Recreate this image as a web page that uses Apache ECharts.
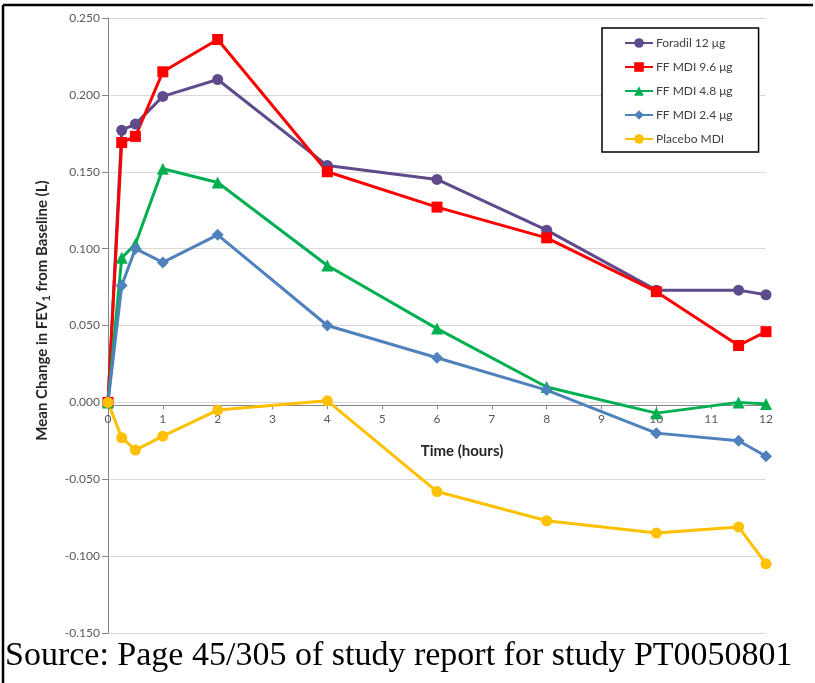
<!DOCTYPE html>
<html><head><meta charset="utf-8">
<script src="https://cdn.jsdelivr.net/npm/echarts@6/dist/echarts.min.js"></script>
<style>
html,body{margin:0;padding:0;background:#fff;}
#c{width:815px;height:683px;position:relative;}
</style></head><body>
<div id="c"></div>
<script>
const hours = [0, 0.25, 0.5, 1, 2, 4, 6, 8, 10, 11.5, 12];
const foradil12 = [0, 0.177, 0.181, 0.199, 0.210, 0.154, 0.145, 0.112, 0.073, 0.073, 0.070];
const ffmdi96  = [0, 0.169, 0.173, 0.215, 0.236, 0.150, 0.127, 0.107, 0.072, 0.037, 0.046];
const ffmdi48  = [0, 0.094, 0.103, 0.152, 0.143, 0.089, 0.048, 0.010, -0.007, 0.000, -0.001];
const ffmdi24  = [0, 0.076, 0.100, 0.091, 0.109, 0.050, 0.029, 0.008, -0.020, -0.025, -0.035];
const placebo  = [0, -0.023, -0.031, -0.022, -0.005, 0.001, -0.058, -0.077, -0.085, -0.081, -0.105];
const seriesNames = ['Foradil 12 μg', 'FF MDI 9.6 μg', 'FF MDI 4.8 μg', 'FF MDI 2.4 μg', 'Placebo MDI'];
const xTicks = [0,1,2,3,4,5,6,7,8,9,10,11,12];
const yTicks = [-0.15,-0.1,-0.05,0,0.05,0.1,0.15,0.2,0.25];

const colors = ['#5f4b8b', '#ff0000', '#00b050', '#4f81bd', '#ffc000'];
const symbols = ['circle', 'rect', 'triangle', 'diamond', 'circle'];
const sizes = [11, 11, 12, 12, 11];
const dataSets = [foradil12, ffmdi96, ffmdi48, ffmdi24, placebo];
const font = 'Lato, "Open Sans", sans-serif';

const chart = echarts.init(document.getElementById('c'), null, {renderer:'canvas'});
function build(xOffset) {
  return {
  animation: false,
  backgroundColor: '#fff',
  grid: {left: 108, right: 49, top: 18, bottom: 50, containLabel: false},
  xAxis: {
    type: 'value', min: 0, max: 12, interval: 1,
    position: 'bottom', offset: xOffset,
    axisLine: {onZero: false, lineStyle: {color: '#868686', width: 1}},
    axisTick: {show: true, length: 4, lineStyle: {color: '#868686'}},
    axisLabel: {color: '#595959', fontSize: 12, fontFamily: font, margin: 8,
      formatter: v => xTicks.includes(v) ? String(v) : ''},
    splitLine: {show: false},
    name: 'Time (hours)', nameLocation: 'middle', nameGap: 38,
    nameTextStyle: {color: '#262626', fontSize: 15, fontWeight: 'bold', fontFamily: font, padding: [0,0,0,50]}
  },
  yAxis: {
    type: 'value', min: -0.15, max: 0.25, interval: 0.05,
    axisLine: {show: true, lineStyle: {color: '#868686', width: 1}},
    axisTick: {show: true, length: 6, lineStyle: {color: '#868686'}},
    axisLabel: {color: '#595959', fontSize: 12, fontFamily: font, margin: 8,
      formatter: v => { const t = yTicks.find(x => Math.abs(x - v) < 1e-9); return t === undefined ? '' : t.toFixed(3); }},
    splitLine: {show: true, lineStyle: {color: '#d9d9d9', width: 1}},
    name: '{a|Mean Change in FEV}{s|1}{a| from Baseline (L)}',
    nameLocation: 'middle', nameGap: 56, nameRotate: 90,
    nameTextStyle: {
      padding: [0, 0, 0, 30],
      rich: {
        a: {color: '#262626', fontSize: 15, fontWeight: 'bold', fontFamily: font},
        s: {color: '#262626', fontSize: 11, fontWeight: 'bold', fontFamily: font, verticalAlign: 'bottom', padding: [8,0,0,0]}
      }
    }
  },
  legend: {
    orient: 'vertical', left: 602, top: 28,
    backgroundColor: '#fff',
    borderColor: '#000', borderWidth: 1.5,
    padding: [9, 26, 7, 22],
    itemWidth: 28, itemHeight: 12, itemGap: 12,
    textStyle: {color: '#404040', fontSize: 12, lineHeight: 12, fontFamily: font, padding: [0,0,0,-2]},
    data: seriesNames
  },
  series: seriesNames.map((n, i) => ({
    name: n, type: 'line',
    data: hours.map((h, j) => [h, dataSets[i][j]]),
    symbol: symbols[i], symbolSize: sizes[i], showSymbol: true,
    lineStyle: {color: colors[i], width: 3},
    itemStyle: {color: colors[i], borderWidth: 0}
  })),
  graphic: [
    {type: 'line', shape: {x1: 3, y1: 5, x2: 813, y2: 5}, style: {stroke: '#000', lineWidth: 2.5}},
    {type: 'line', shape: {x1: 3, y1: 5, x2: 3, y2: 683}, style: {stroke: '#000', lineWidth: 2.5}},
    {type: 'text', left: 5, top: 639, style: {text: 'Source: Page 45/305 of study report for study PT0050801',
      font: '34px "Liberation Serif", "Times New Roman", serif', fill: '#000'}}
  ]
  };
}
chart.setOption(build(0));
// move the x axis so it crosses the y axis at zero (like onZero)
const yBottom = chart.convertToPixel({yAxisIndex: 0}, -0.15);
const yZero = chart.convertToPixel({yAxisIndex: 0}, 0);
chart.setOption(build(-(yBottom - yZero)));
</script>
</body></html>
